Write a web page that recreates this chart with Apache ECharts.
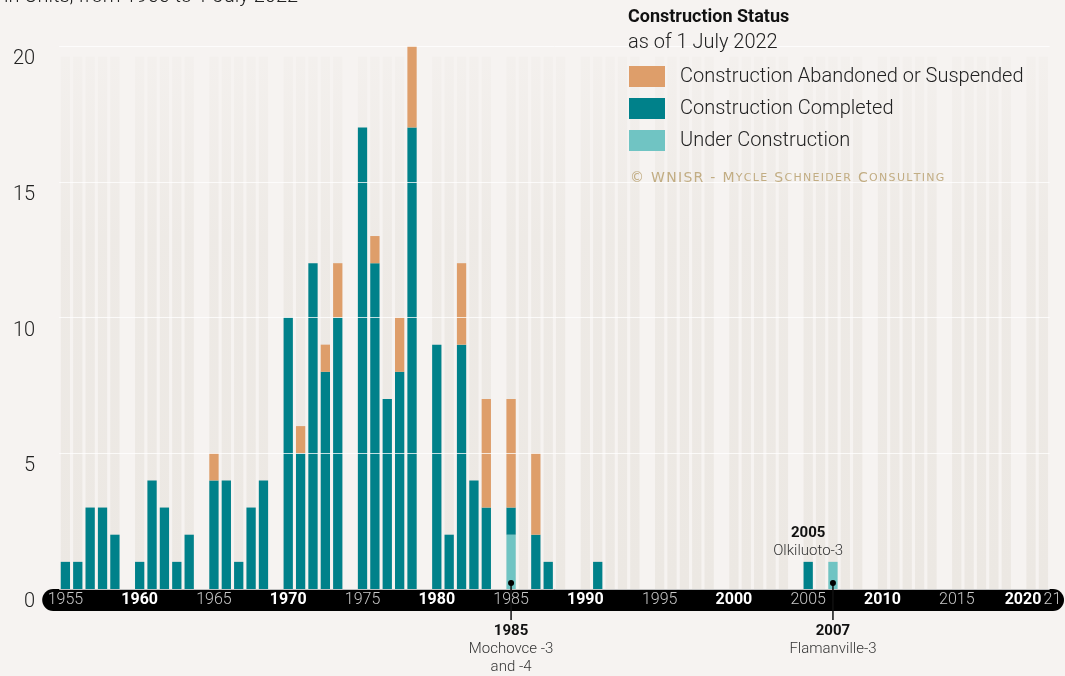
<!DOCTYPE html>
<html>
<head>
<meta charset="utf-8">
<script src="https://cdn.jsdelivr.net/npm/echarts@6/dist/echarts.min.js"></script>
<style>
html,body{margin:0;padding:0;background:#f6f3f1;}
#chart{width:1065px;height:676px;}
</style>
</head>
<body>
<div id="chart"></div>
<script>
// ---- data (units per construction-start year) ----
const firstYear = 1955;
const lastYear = 2021;
const completed = [
  1,1,3,3,2,   1,4,3,1,2,   4,4,1,3,4,   10,5,12,8,10,  17,12,7,8,17,
  9,2,9,4,3,   1,0,2,1,0,   0,1,0,0,0,   0,0,0,0,0,    0,0,0,0,0,
  1,0,0,0,0,   0,0,0,0,0,   0,0,0,0,0,   0,0
];
const abandoned = [
  0,0,0,0,0,   0,0,0,0,0,   1,0,0,0,0,   0,1,0,1,2,    0,1,0,2,3,
  0,0,3,0,4,   4,0,3,0,0,   0,0,0,0,0,   0,0,0,0,0,    0,0,0,0,0,
  0,0,0,0,0,   0,0,0,0,0,   0,0,0,0,0,   0,0
];
const underConstruction = [
  0,0,0,0,0,   0,0,0,0,0,   0,0,0,0,0,   0,0,0,0,0,    0,0,0,0,0,
  0,0,0,0,0,   2,0,0,0,0,   0,0,0,0,0,   0,0,0,0,0,    0,0,0,0,0,
  0,0,1,0,0,   0,0,0,0,0,   0,0,0,0,0,   0,0
];
const yTicks = [0, 5, 10, 15, 20];
const backgroundHeight = 19.6;
const annotationsBelow = [
  { year: 1985, lines: ['Mochovce -3', 'and -4'] },
  { year: 2007, lines: ['Flamanville-3'] }
];
const annotationsAbove = [
  { year: 2005, value: 1, lines: ['Olkiluoto-3'] }
];

// ---- build slots: 5 years per group + a blank slot ----
const slots = [];
let gapN = 0;
for (let y = firstYear; y <= lastYear; y++) {
  if (y > firstYear && (y - firstYear) % 5 === 0) slots.push('gap' + (gapN++));
  slots.push(String(y));
}
function toSlots(arr) {
  return slots.map(s => {
    if (s.startsWith('gap')) return '-';
    const v = arr[+s - firstYear];
    return v ? v : '-';
  });
}
const bgData = slots.map(s => s.startsWith('gap') ? '-' : backgroundHeight);

const COL_AB = '#de9e6a';
const COL_CO = '#00818a';
const COL_UC = '#70c4c3';
const LIGHT = "'Roboto', 'Noto Sans', sans-serif";

const gridLeft = 59.2, gridRight = 15.4, gridTop = 46, gridBottom = 87;

const chart = echarts.init(document.getElementById('chart'), null, { renderer: 'canvas' });

const option = {
  backgroundColor: '#f6f3f1',
  animation: false,
  textStyle: { fontFamily: LIGHT },
  grid: { left: gridLeft, right: gridRight, top: gridTop, bottom: gridBottom, containLabel: false },
  legend: {
    data: ['Construction Abandoned or Suspended', 'Construction Completed', 'Under Construction'],
    orient: 'vertical',
    left: 624, top: 61,
    itemWidth: 36, itemHeight: 21, itemGap: 11,
    icon: 'rect',
    selectedMode: false,
    textStyle: { fontSize: 20, color: '#222', fontWeight: 300, fontFamily: LIGHT, padding: [0, 0, 0, 10] }
  },
  xAxis: {
    type: 'category',
    data: slots,
    z: 10,
    axisLine: { show: false },
    axisTick: { show: false },
    axisLabel: {
      interval: 0,
      margin: 11,
      verticalAlign: 'middle',
      formatter: function (v) {
        if (v.startsWith('gap')) return '';
        const y = +v;
        if (y === 2021) return '{lr|21}';
        if (y === 2020) return '{bl|2020}';
        if (y % 10 === 0) return '{b|' + y + '}';
        if (y % 5 === 0) return '{l|' + y + '}';
        return '';
      },
      rich: {
        b: { color: '#fff', fontWeight: 'bold', fontSize: 16, fontFamily: LIGHT },
        l: { color: '#c8c8c8', fontWeight: 300, fontSize: 16, fontFamily: LIGHT },
        bl: { color: '#fff', fontWeight: 'bold', fontSize: 16, fontFamily: LIGHT, padding: [0, 16, 0, 0] },
        lr: { color: '#c8c8c8', fontWeight: 300, fontSize: 16, fontFamily: LIGHT, padding: [0, 0, 0, 18] }
      }
    }
  },
  yAxis: {
    type: 'value',
    min: yTicks[0], max: yTicks[yTicks.length - 1], interval: 5,
    z: 3,
    axisLine: { show: false },
    axisTick: { show: false },
    splitLine: { show: true, lineStyle: { color: 'rgba(255,255,255,0.75)', width: 1 } },
    axisLabel: {
      fontSize: 20, color: '#222', fontWeight: 300, fontFamily: LIGHT,
      margin: 24, verticalAlign: 'top', padding: [3, 0, 0, 0]
    }
  },
  series: [
    {
      name: 'bg', type: 'bar', data: bgData, silent: true, z: 1,
      barGap: '-100%', barCategoryGap: '25%',
      itemStyle: {
        color: new echarts.graphic.LinearGradient(0, 0, 0, 1, [
          { offset: 0, color: 'rgba(235,231,226,0.25)' },
          { offset: 0.35, color: 'rgba(235,231,226,0.75)' },
          { offset: 1, color: '#ece8e3' }
        ])
      }
    },
    {
      name: 'Under Construction', type: 'bar', stack: 'u', data: toSlots(underConstruction), z: 2,
      barGap: '-100%', barCategoryGap: '25%', itemStyle: { color: COL_UC }
    },
    {
      name: 'Construction Completed', type: 'bar', stack: 'u', data: toSlots(completed), z: 2,
      barGap: '-100%', barCategoryGap: '25%', itemStyle: { color: COL_CO }
    },
    {
      name: 'Construction Abandoned or Suspended', type: 'bar', stack: 'u', data: toSlots(abandoned), z: 2,
      barGap: '-100%', barCategoryGap: '25%', itemStyle: { color: COL_AB }
    }
  ]
};
chart.setOption(option);

// ---- decorations & annotations placed through the chart's own scales ----
const W = 1065;
const zeroPx = chart.convertToPixel({ yAxisIndex: 0 }, 0);
const graphics = [];
// axis pill
graphics.push({
  type: 'rect', z: 0, silent: true,
  shape: { x: gridLeft - 17, y: zeroPx, width: W - 1 - (gridLeft - 17), height: 22, r: 11 },
  style: { fill: '#000' }
});
// title fragment at the top (cut off in the original)
graphics.push({
  type: 'text', z: 20, left: 4, top: -13,
  style: { text: 'in Units, from 1955 to 1 July 2022', font: '300 20px ' + LIGHT, fill: '#222' }
});
// legend heading
graphics.push({
  type: 'text', z: 20, left: 628, top: 8,
  style: { text: 'Construction Status', font: 'bold 18px ' + LIGHT, fill: '#111' }
});
graphics.push({
  type: 'text', z: 20, left: 628, top: 33,
  style: { text: 'as of 1 July 2022', font: '300 20px ' + LIGHT, fill: '#222' }
});
// copyright in small caps
const credit = '© WNISR - Mycle Schneider Consulting';
let creditRich = '';
for (let i = 0; i < credit.length; i++) {
  const ch = credit[i];
  const isLower = ch !== ch.toUpperCase();
  creditRich += '{' + (isLower ? 's' : 'b') + '|' + ch.toUpperCase() + '}';
}
graphics.push({
  type: 'text', z: 20, left: 630, top: 171,
  style: {
    text: creditRich,
    rich: {
      b: { fontSize: 14, fill: '#c2ad83', fontFamily: "'DejaVu Sans', sans-serif", fontWeight: 'normal', padding: [0, 1.3, 0, 0] },
      s: { fontSize: 11, fill: '#c2ad83', fontFamily: "'DejaVu Sans', sans-serif", fontWeight: 'normal', padding: [0, 1.3, 0, 0] }
    }
  }
});
annotationsBelow.forEach(a => {
  const x = chart.convertToPixel({ xAxisIndex: 0 }, String(a.year));
  const y0 = zeroPx - 6;
  graphics.push({ type: 'line', z: 20, shape: { x1: x, y1: y0, x2: x, y2: zeroPx + 31 }, style: { stroke: '#111', lineWidth: 1.5 } });
  graphics.push({ type: 'circle', z: 21, shape: { cx: x, cy: y0, r: 3 }, style: { fill: '#000' } });
  graphics.push({ type: 'text', z: 20, x: x, y: zeroPx + 42,
    style: { text: String(a.year), font: 'bold 15px ' + LIGHT, fill: '#111', align: 'center', verticalAlign: 'middle' } });
  a.lines.forEach((t, i) => {
    graphics.push({ type: 'text', z: 20, x: x, y: zeroPx + 60 + i * 18,
      style: { text: t, font: '300 15px ' + LIGHT, fill: '#333', align: 'center', verticalAlign: 'middle' } });
  });
});
annotationsAbove.forEach(a => {
  const p = chart.convertToPixel({ xAxisIndex: 0, yAxisIndex: 0 }, [String(a.year), a.value]);
  graphics.push({ type: 'text', z: 20, x: p[0], y: p[1] - 29,
    style: { text: String(a.year), font: 'bold 15px ' + LIGHT, fill: '#111', align: 'center', verticalAlign: 'middle' } });
  a.lines.forEach((t, i) => {
    graphics.push({ type: 'text', z: 20, x: p[0], y: p[1] - 11 + i * 18,
      style: { text: t, font: '300 15px ' + LIGHT, fill: '#333', align: 'center', verticalAlign: 'middle' } });
  });
});
chart.setOption({ graphic: graphics });
</script>
</body>
</html>
